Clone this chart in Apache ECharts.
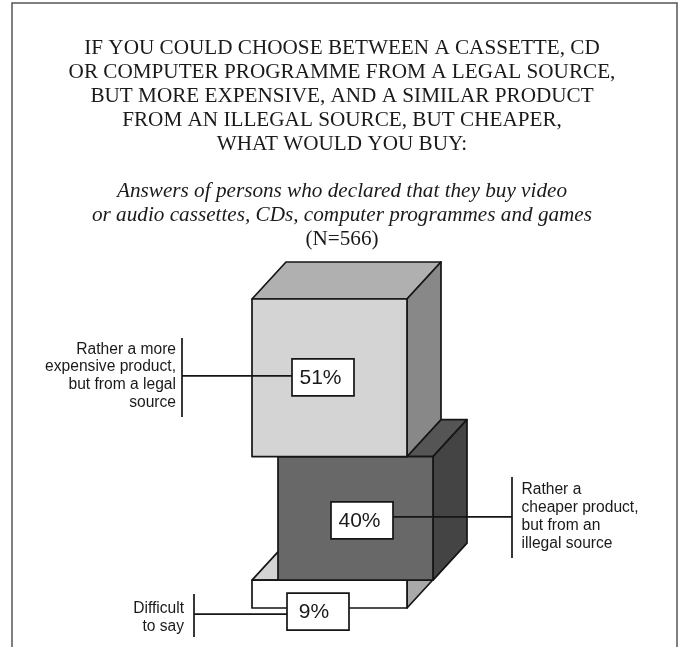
<!DOCTYPE html>
<html>
<head>
<meta charset="utf-8">
<title>Legal or illegal source</title>
<script src="https://cdn.jsdelivr.net/npm/echarts@6/dist/echarts.min.js"></script>
<style>
  html, body { margin: 0; padding: 0; background: #fff; }
  #chart { width: 682px; height: 647px; }
</style>
</head>
<body>
<div id="chart"></div>
<script>
// Survey answers, listed from the bottom of the stack upwards.
const answerLabels = [
  'Difficult\nto say',
  'Rather a\ncheaper product,\nbut from an\nillegal source',
  'Rather a more\nexpensive product,\nbut from a legal\nsource'
];
const answerValues = [9, 40, 51];
const stackAxis = ['Answers'];

const headingText = [
  'IF YOU COULD CHOOSE BETWEEN A CASSETTE, CD',
  'OR COMPUTER PROGRAMME FROM A LEGAL SOURCE,',
  'BUT MORE EXPENSIVE, AND A SIMILAR PRODUCT',
  'FROM AN ILLEGAL SOURCE, BUT CHEAPER,',
  'WHAT WOULD YOU BUY:'
].join('\n');
const respondentsText = [
  'Answers of persons who declared that they buy video',
  'or audio cassettes, CDs, computer programmes and games'
].join('\n');
const sampleText = '(N=566)';

// Oblique projection of the box depth, in pixels.
const DEPTH_X = 34;
const DEPTH_Y = 37;
const INK = '#151515';
const TEXT_INK = '#1a1a1a';
const STROKE = 1.7;
const SERIF = '"Liberation Serif", serif';
const SANS = '"Liberation Sans", Arial, sans-serif';

// Face shades and horizontal offset of each box, bottom to top.
const boxStyles = [
  { front: '#ffffff', top: '#d4d4d4', side: '#a9a9a9', shift: 0 },
  { front: '#686868', top: '#555555', side: '#444444', shift: 26 },
  { front: '#d4d4d4', top: '#b0b0b0', side: '#888888', shift: 0 }
];

// Placement of the value tag and the bracketed caption for each box.
const calloutStyles = [
  { tagX: 287, tagDy: 17.5, leaderDy: 20, textNudge: -4, barX: 194, barTop: 594, barBottom: 637, textX: 184, textY: 618, align: 'right' },
  { tagX: 331, tagDy: 2, leaderDy: -1.5, textNudge: -2.5, barX: 512, barTop: 477, barBottom: 558, textX: 521.5, textY: 516.5, align: 'left' },
  { tagX: 292, tagDy: -0.5, leaderDy: -2, textNudge: -2.5, barX: 182, barTop: 338, barBottom: 417, textX: 176, textY: 376, align: 'right' }
];
const TAG_W = 62;
const TAG_H = 37;

// Cumulative extents of the stack.
let running = 0;
const stackRows = answerValues.map(function (v, i) {
  const row = [0, running, running + v, i];
  running += v;
  return row;
});

function face(points, fill) {
  return {
    type: 'polygon',
    shape: { points: points },
    style: { fill: fill, stroke: INK, lineWidth: STROKE, lineJoin: 'round' }
  };
}

function renderBox(params, api) {
  const look = boxStyles[api.value(3)];
  const base = api.coord([api.value(0), api.value(1)]);
  const width = api.size([1, 0])[0];
  const yBottom = base[1];
  const yTop = api.coord([api.value(0), api.value(2)])[1];
  const x0 = base[0] - width / 2 + look.shift;
  const x1 = x0 + width;
  return {
    type: 'group',
    children: [
      face([[x0, yTop], [x1, yTop], [x1 + DEPTH_X, yTop - DEPTH_Y], [x0 + DEPTH_X, yTop - DEPTH_Y]], look.top),
      face([[x1, yTop], [x1 + DEPTH_X, yTop - DEPTH_Y], [x1 + DEPTH_X, yBottom - DEPTH_Y], [x1, yBottom]], look.side),
      face([[x0, yTop], [x1, yTop], [x1, yBottom], [x0, yBottom]], look.front)
    ]
  };
}

function renderCallout(params, api) {
  const idx = api.value(3);
  const c = calloutStyles[idx];
  const yMid = api.coord([api.value(0), (api.value(1) + api.value(2)) / 2])[1];
  const tagY = yMid + c.tagDy - TAG_H / 2;
  const leaderY = yMid + c.leaderDy;
  const tagEdge = c.barX < c.tagX ? c.tagX : c.tagX + TAG_W;
  const line = function (x1, y1, x2, y2) {
    return {
      type: 'line',
      shape: { x1: x1, y1: y1, x2: x2, y2: y2 },
      style: { stroke: INK, lineWidth: STROKE }
    };
  };
  return {
    type: 'group',
    children: [
      line(c.barX, leaderY, tagEdge, leaderY),
      line(c.barX, c.barTop, c.barX, c.barBottom),
      {
        type: 'rect',
        shape: { x: c.tagX, y: tagY, width: TAG_W, height: TAG_H },
        style: { fill: '#fff', stroke: INK, lineWidth: STROKE }
      },
      {
        type: 'text',
        style: {
          x: c.tagX + TAG_W / 2 + c.textNudge,
          y: tagY + TAG_H / 2 + 1,
          text: answerValues[idx] + '%',
          align: 'center',
          verticalAlign: 'middle',
          font: '21px ' + SANS,
          fill: TEXT_INK
        }
      },
      {
        type: 'text',
        style: {
          x: c.textX,
          y: c.textY,
          text: answerLabels[idx],
          align: c.align,
          verticalAlign: 'middle',
          lineHeight: 17.8,
          font: '15.6px ' + SANS,
          fill: TEXT_INK
        }
      }
    ]
  };
}

const chart = echarts.init(document.getElementById('chart'), null, { renderer: 'canvas' });
chart.setOption({
  animation: false,
  backgroundColor: '#ffffff',
  title: [
    {
      text: headingText, left: 337, top: 32, textAlign: 'center',
      textStyle: { fontFamily: SERIF, fontWeight: 'normal', fontSize: 21.2, lineHeight: 23.8, color: TEXT_INK }
    },
    {
      text: respondentsText, left: 337, top: 174, textAlign: 'center',
      textStyle: { fontFamily: SERIF, fontWeight: 'normal', fontStyle: 'italic', fontSize: 21.2, lineHeight: 24, color: TEXT_INK }
    },
    {
      text: sampleText, left: 337, top: 222, textAlign: 'center',
      textStyle: { fontFamily: SERIF, fontWeight: 'normal', fontSize: 21.2, lineHeight: 24, color: TEXT_INK }
    }
  ],
  graphic: [{
    type: 'polyline',
    silent: true,
    z: 0,
    shape: { points: [[12, 647], [12, 3], [677, 3], [677, 647]] },
    style: { fill: 'none', stroke: '#555', lineWidth: 1.5 }
  }],
  grid: { left: 252, top: 299, width: 155, height: 309 },
  xAxis: { type: 'category', data: stackAxis, show: false },
  yAxis: { type: 'value', min: 0, max: 100, show: false },
  series: [
    {
      type: 'custom',
      z: 2,
      clip: false,
      silent: true,
      coordinateSystem: 'cartesian2d',
      renderItem: renderBox,
      data: stackRows,
      encode: { x: 0, y: [1, 2] }
    },
    {
      type: 'custom',
      z: 3,
      clip: false,
      silent: true,
      coordinateSystem: 'cartesian2d',
      renderItem: renderCallout,
      data: stackRows,
      encode: { x: 0, y: [1, 2] }
    }
  ]
});
</script>
</body>
</html>
